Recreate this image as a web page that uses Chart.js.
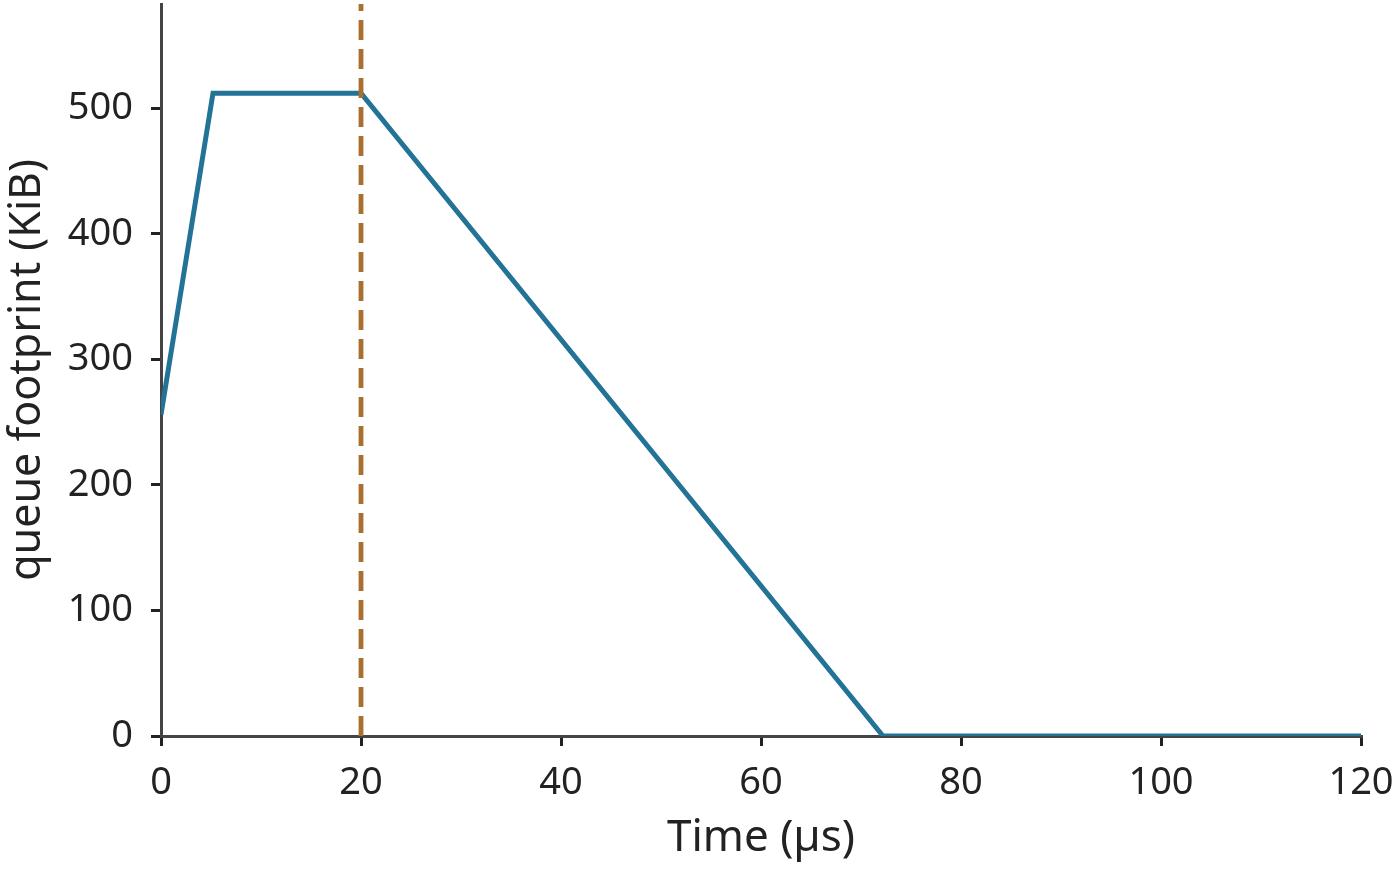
<!DOCTYPE html>
<html>
<head>
<meta charset="utf-8">
<script src="https://cdn.jsdelivr.net/npm/chart.js@4.4.0/dist/chart.umd.min.js"></script>
<style>
  html, body { margin: 0; padding: 0; background: #ffffff; }
  #wrap { width: 1400px; height: 871px; }
</style>
</head>
<body>
<div id="wrap"><canvas id="grafico" width="1400" height="871"></canvas></div>
<script>
// datos
const timeUs = [0, 5.2, 20, 72.2, 120];
const footprintKiB = [256, 512, 512, 0, 0];
const markerTime = 20;          // linea vertical punteada
const xTicks = [0, 20, 40, 60, 80, 100, 120];
const yTicks = [0, 100, 200, 300, 400, 500];
const yMax = 583;

const textColor = '#222222';
const fontFamily = '"Noto Sans", "DejaVu Sans", sans-serif';

const ctx = document.getElementById('grafico').getContext('2d');
const chart = new Chart(ctx, {
    type: 'line',
    data: {
        datasets: [{
            label: 'marker',
            data: [{x: markerTime, y: 0}, {x: markerTime, y: yMax}],
            borderColor: '#a86f2e',
            borderWidth: 4.8,
            borderDash: [20, 9],
            borderCapStyle: 'butt',
            pointRadius: 0,
            fill: false,
            tension: 0
        }, {
            label: 'queue footprint',
            data: timeUs.map((t, i) => ({x: t, y: footprintKiB[i]})),
            borderColor: '#237396',
            borderWidth: 5,
            borderJoinStyle: 'miter',
            pointRadius: 0,
            fill: false,
            tension: 0
        }]
    },
    options: {
        responsive: false,
        animation: false,
        devicePixelRatio: 1,
        layout: { padding: { top: 4, right: 39, left: 0, bottom: 0 } },
        plugins: { legend: { display: false }, tooltip: { enabled: false } },
        scales: {
            x: {
                type: 'linear',
                min: 0,
                max: 120,
                afterBuildTicks: s => { s.ticks = xTicks.map(v => ({value: v})); },
                afterFit: s => { s.height = 135; s.paddingLeft = 0; s.paddingRight = 0; },
                grid: { drawOnChartArea: false, drawTicks: true, tickLength: 10, color: textColor, lineWidth: 3 },
                border: { display: true, color: '#444444', width: 3 },
                ticks: { color: textColor, font: { family: fontFamily, size: 38 }, padding: 14, maxRotation: 0 },
                title: { display: true, text: 'Time (µs)', color: textColor, font: { family: fontFamily, size: 44 }, padding: { top: 0, bottom: 6 } }
            },
            y: {
                type: 'linear',
                min: 0,
                max: yMax,
                afterBuildTicks: s => { s.ticks = yTicks.map(v => ({value: v})); },
                afterFit: s => { s.width = 161; s.paddingTop = 0; s.paddingBottom = 0; },
                grid: { drawOnChartArea: false, drawTicks: true, tickLength: 10, color: textColor, lineWidth: 3 },
                border: { display: true, color: '#444444', width: 3 },
                ticks: { color: textColor, font: { family: fontFamily, size: 38 }, padding: 18 },
                title: { display: true, text: 'queue footprint (KiB)', color: textColor, font: { family: fontFamily, size: 43 }, padding: { top: 2, bottom: 0 } }
            }
        }
    }
});
</script>
</body>
</html>
